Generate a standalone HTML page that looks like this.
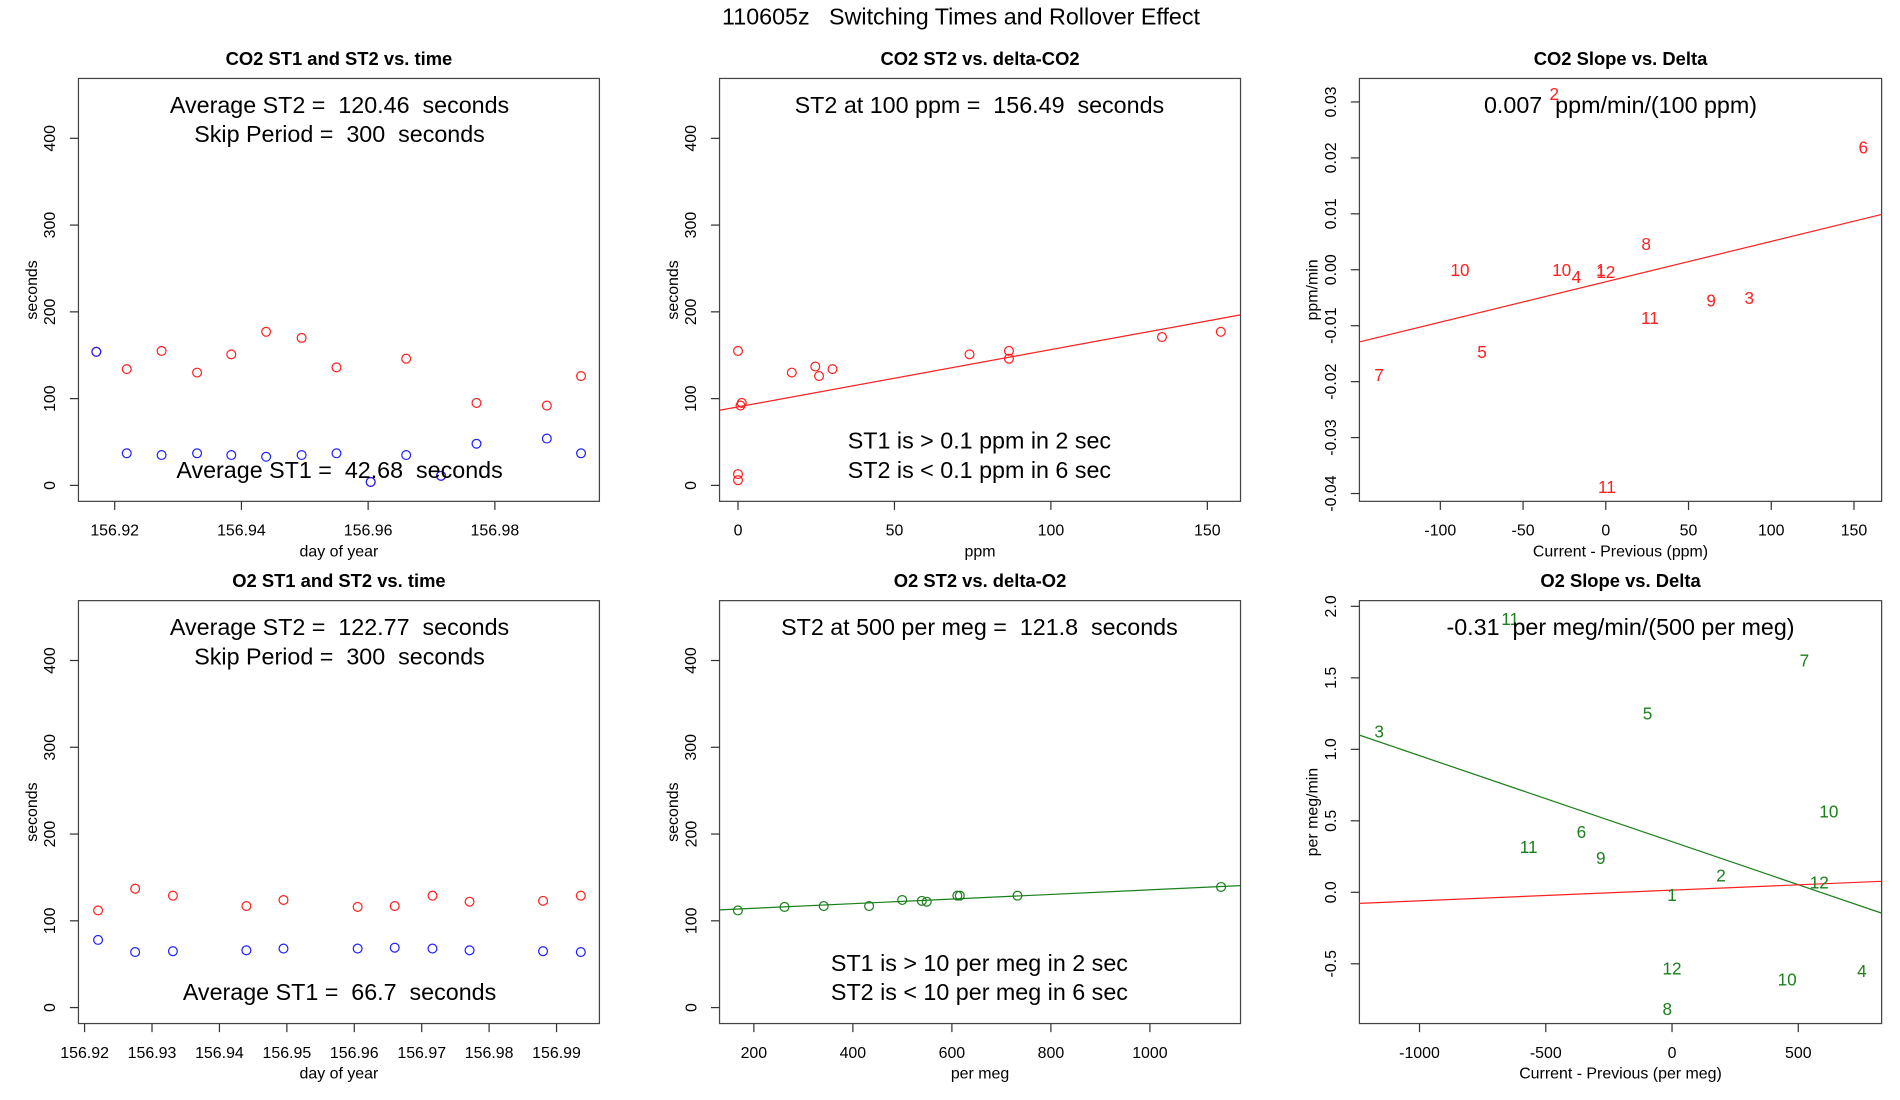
<!DOCTYPE html>
<html><head><meta charset="utf-8"><style>
html,body{margin:0;padding:0;background:#fff;}
svg{display:block;font-family:"Liberation Sans",sans-serif;}
svg text{white-space:pre;}
</style></head><body>
<svg id="fig" width="1900" height="1100" viewBox="0 0 1550 897.37" preserveAspectRatio="none" xmlns="http://www.w3.org/2000/svg">
<text x="784" y="20" font-size="19" text-anchor="middle" xml:space="preserve">110605z   Switching Times and Rollover Effect</text>
</svg>
<script>
// ---- data ----
const co2Days=[156.9171,156.9219,156.9274,156.933,156.9384,156.9439,156.9495,156.955,156.9604,156.966,156.9715,156.9771,156.9882,156.9936];
const co2St2=[154,134,155,130,151,177,170,136,4,146,11,95,92,126];
const co2St1=[154,37,35,37,35,33,35,37,4,35,11,48,54,37];
const o2Days=[156.922,156.9275,156.9331,156.944,156.9495,156.9605,156.966,156.9716,156.9771,156.988,156.9936];
const o2St2=[112,137,129,117,124,116,117,129,122,123,129];
const o2St1=[78,64,65,66,68,68,69,68,66,65,64];
const co2Delta=[0,0,0,0.8,1.2,17.2,24.7,25.9,30.2,74,86.6,86.6,135.5,154.3];
const co2DeltaSt2=[155,13,6,92,95,130,137,126,134,151,155,146,171,177];
const co2Fit=[90.5,0.66];
const o2Delta=[167.8,261.9,341.1,432.8,499.6,539.3,549.2,611,616,732.5,1143.7];
const o2DeltaSt2=[112,116,117,117,124,123,122,129,129,129,139];
const o2Fit=[112.6,0.0266];
const co2SlopeLabels=["2","6","8","10","10","4","1","12","9","3","11","5","7","11"];
const co2SlopeX=[-31.1,155.6,24.4,-88.1,-26.7,-17.8,-3,0,63.7,86.7,26.7,-74.8,-137,0.7];
const co2SlopeY=[0.0314,0.0219,0.0046,0,0,-0.0013,0,-0.0004,-0.0055,-0.005,-0.0086,-0.0147,-0.0188,-0.0388];
const co2SlopeFit=[-0.00215,7.22e-5];
const o2SlopeLabels=["11","7","5","3","10","6","11","9","2","12","1","12","10","4","8"];
const o2SlopeX=[-641,524,-97,-1160,621,-359,-568,-282,194,583,0,0,456,752,-19];
const o2SlopeY=[1.914,1.622,1.253,1.124,0.567,0.421,0.318,0.240,0.120,0.069,-0.017,-0.532,-0.61,-0.55,-0.815];
const o2SlopeFitGreen=[0.354,-6.02e-4];
const o2SlopeFitRed=[0.015,7.45e-5];
const ticksSec=[0,100,200,300,400];
const ticksCo2Days=[156.92,156.94,156.96,156.98];
const ticksO2Days=[156.92,156.93,156.94,156.95,156.96,156.97,156.98,156.99];
const ticksPpm=[0,50,100,150];
const ticksPerMeg=[200,400,600,800,1000];
const ticksDppm=[-100,-50,0,50,100,150];
const ticksSlopeCo2=[-0.04,-0.03,-0.02,-0.01,0,0.01,0.02,0.03];
const ticksDmeg=[-1000,-500,0,500];
const ticksSlopeO2=[-0.5,0,0.5,1,1.5,2];

const svg=document.getElementById('fig');
const NS='http://www.w3.org/2000/svg';
function mk(tag,attrs,parent){const e=document.createElementNS(NS,tag);for(const k in attrs)e.setAttribute(k,attrs[k]);(parent||svg).appendChild(e);return e;}
const RED='#ff2020',BLUE='#2020ff',GREEN='#1a801a';

function panel(p){
  const g=mk('g',{});
  
  
  const sx=v=>p.x0+(v-p.xd[0])/(p.xd[1]-p.xd[0])*(p.x1-p.x0);
  const sy=v=>p.y1-(v-p.yd[0])/(p.yd[1]-p.yd[0])*(p.y1-p.y0);
  const t=mk('text',{x:(p.x0+p.x1)/2,y:p.y0-11,'font-size':15,'font-weight':'bold','text-anchor':'middle'},g);
  t.textContent=p.title;
  
  
  const box=mk('rect',{x:p.x0,y:p.y0,width:p.x1-p.x0,height:p.y1-p.y0,fill:'none',stroke:'#444','stroke-width':1},g);
  
  
  p.xt.forEach(v=>{
    const x=sx(v);
    mk('line',{x1:x,x2:x,y1:p.y1,y2:p.y1+7,stroke:'#333'},g);
    const l=mk('text',{x:x,y:p.y1+28,'font-size':13,'text-anchor':'middle'},g);
    l.textContent=p.xf?p.xf(v):v;
    
    
  });
  p.yt.forEach(v=>{
    const y=sy(v);
    mk('line',{x1:p.x0,x2:p.x0-7,y1:y,y2:y,stroke:'#333'},g);
    const l=mk('text',{x:p.x0-19,y:y,'font-size':13,'text-anchor':'middle',transform:`rotate(-90 ${p.x0-19} ${y})`},g);
    l.textContent=p.yf?p.yf(v):v;
    
    
  });
  const xl=mk('text',{x:(p.x0+p.x1)/2,y:p.y1+45,'font-size':13,'text-anchor':'middle'},g);
  xl.textContent=p.xlab;
  
  
  const yx=p.x0-34,ym=(p.y0+p.y1)/2;
  const yl=mk('text',{x:yx,y:ym,'font-size':13,'text-anchor':'middle',transform:`rotate(-90 ${yx} ${ym})`},g);
  yl.textContent=p.ylab;
  
  
  const clip='c'+Math.round(p.x0)+Math.round(p.y0);
  const cp=mk('clipPath',{id:clip},g);mk('rect',{x:p.x0,y:p.y0,width:p.x1-p.x0,height:p.y1-p.y0},cp);
  const inner=mk('g',{'clip-path':`url(#${clip})`},g);
  (p.lines||[]).forEach(f=>{
    const ln=mk('line',{x1:p.x0,x2:p.x1,y1:sy(f.a+f.b*p.xd[0]),y2:sy(f.a+f.b*p.xd[1]),stroke:f.c,'stroke-width':1},inner);
    
    
  });
  (p.series||[]).forEach(s=>{
    s.x.forEach((xv,i)=>{
      if(s.labels){
        const tx=mk('text',{x:sx(xv),y:sy(s.y[i])+5,'font-size':14,'text-anchor':'middle',fill:s.c},inner);
        tx.textContent=s.labels[i];
        
        
      } else {
        const c=mk('circle',{cx:sx(xv),cy:sy(s.y[i]),r:3.6,fill:'none',stroke:s.c,'stroke-width':1},inner);
        
        
      }
    });
  });
  (p.notes||[]).forEach(n=>{
    const tx=mk('text',{x:n[0],y:n[1],'font-size':19,'text-anchor':'middle'},g);
    tx.textContent=n[2];
    
    
  });
}
const R1=[64,409],R2=[490,835];
const secD=[-18.4,469];
panel({name:'co2-time-panel',title:'CO2 ST1 and ST2 vs. time',x0:64,x1:489,y0:R1[0],y1:R1[1],xd:[156.91428,156.99650],yd:secD,xt:ticksCo2Days,yt:ticksSec,xf:v=>v.toFixed(2),xlab:'day of year',ylab:'seconds',
  series:[{x:co2Days,y:co2St2,c:RED},{x:co2Days,y:co2St1,c:BLUE}],
  notes:[[277,92,'Average ST2 =  120.46  seconds'],[277,116,'Skip Period =  300  seconds'],[277,390,'Average ST1 =  42.68  seconds']]});
panel({name:'co2-delta-panel',title:'CO2 ST2 vs. delta-CO2',x0:587,x1:1012,y0:R1[0],y1:R1[1],xd:[-5.9,160.6],yd:secD,xt:ticksPpm,yt:ticksSec,xlab:'ppm',ylab:'seconds',
  lines:[{a:co2Fit[0],b:co2Fit[1],c:RED}],series:[{x:co2Delta,y:co2DeltaSt2,c:RED}],
  notes:[[799,92,'ST2 at 100 ppm =  156.49  seconds'],[799,366,'ST1 is > 0.1 ppm in 2 sec'],[799,390,'ST2 is < 0.1 ppm in 6 sec']]});
panel({name:'co2-slope-panel',title:'CO2 Slope vs. Delta',x0:1109,x1:1535,y0:R1[0],y1:R1[1],xd:[-148.9,166.7],yd:[-0.0414,0.0342],xt:ticksDppm,yt:ticksSlopeCo2,yf:v=>v.toFixed(2),xlab:'Current - Previous (ppm)',ylab:'ppm/min',
  lines:[{a:co2SlopeFit[0],b:co2SlopeFit[1],c:RED}],series:[{x:co2SlopeX,y:co2SlopeY,labels:co2SlopeLabels,c:RED}],
  notes:[[1322,92,'0.007  ppm/min/(100 ppm)']]});
panel({name:'o2-time-panel',title:'O2 ST1 and ST2 vs. time',x0:64,x1:489,y0:R2[0],y1:R2[1],xd:[156.91909,156.99636],yd:secD,xt:ticksO2Days,yt:ticksSec,xf:v=>v.toFixed(2),xlab:'day of year',ylab:'seconds',
  series:[{x:o2Days,y:o2St2,c:RED},{x:o2Days,y:o2St1,c:BLUE}],
  notes:[[277,518,'Average ST2 =  122.77  seconds'],[277,542,'Skip Period =  300  seconds'],[277,816,'Average ST1 =  66.7  seconds']]});
panel({name:'o2-delta-panel',title:'O2 ST2 vs. delta-O2',x0:587,x1:1012,y0:R2[0],y1:R2[1],xd:[130.7,1183],yd:secD,xt:ticksPerMeg,yt:ticksSec,xlab:'per meg',ylab:'seconds',
  lines:[{a:o2Fit[0]-o2Fit[1]*130.7,b:o2Fit[1],c:GREEN}],series:[{x:o2Delta,y:o2DeltaSt2,c:GREEN}],
  notes:[[799,518,'ST2 at 500 per meg =  121.8  seconds'],[799,792,'ST1 is > 10 per meg in 2 sec'],[799,816,'ST2 is < 10 per meg in 6 sec']]});
panel({name:'o2-slope-panel',title:'O2 Slope vs. Delta',x0:1109,x1:1535,y0:R2[0],y1:R2[1],xd:[-1238,830],yd:[-0.918,2.04],xt:ticksDmeg,yt:ticksSlopeO2,yf:v=>v.toFixed(1),xlab:'Current - Previous (per meg)',ylab:'per meg/min',
  lines:[{a:o2SlopeFitGreen[0],b:o2SlopeFitGreen[1],c:GREEN},{a:o2SlopeFitRed[0],b:o2SlopeFitRed[1],c:RED}],series:[{x:o2SlopeX,y:o2SlopeY,labels:o2SlopeLabels,c:GREEN}],
  notes:[[1322,518,'-0.31  per meg/min/(500 per meg)']]});
</script>
</body></html>
